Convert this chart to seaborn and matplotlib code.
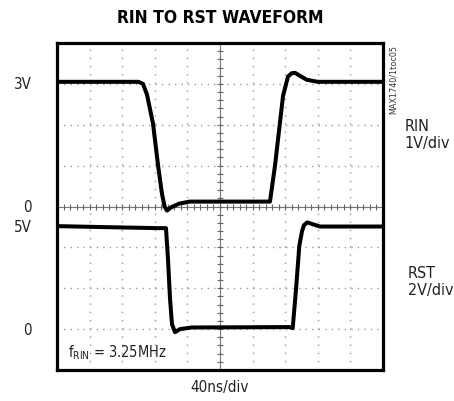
import numpy as np
import matplotlib
matplotlib.use('Agg')
import matplotlib.pyplot as plt
import seaborn as sns

# ============ data read off the scope shot ============
# time in ns (40ns/div, 10 div)
t_rin = [0, 100, 105.5, 110.4, 117.8, 123.9, 128.8, 132, 135, 140, 150, 163, 200, 255,
         261.3, 267.5, 273.6, 277.3, 283.4, 288.0, 292.0, 306.4, 320, 400]
v_rin = [3.05, 3.05, 3.0, 2.74, 2.03, 1.02, 0.31, 0.0, -0.1, -0.02, 0.07, 0.12, 0.12, 0.12,
         0.12, 1.0, 2.06, 2.7, 3.18, 3.26, 3.27, 3.1, 3.05, 3.05]

t_rst = [0, 60, 125, 133.7, 136.2, 138.7, 141.1, 144.8, 150.9, 165, 285,
         289.2, 293.3, 297.3, 300.6, 303.1, 307.1, 322.7, 400]
v_rst = [5.04, 4.99, 4.94, 4.94, 3.42, 1.47, 0.24, -0.15, 0.0, 0.08, 0.1,
         0.05, 1.96, 4.07, 4.79, 5.09, 5.22, 5.02, 5.02]

# channel setup: volts per division and zero position (in divisions from bottom)
rin_scale, rin_zero = 1.0, 4.0
rst_scale, rst_zero = 2.0, 1.0

ns_per_div = 40
n_xdiv, n_ydiv = 10, 8

# ============ style ============
sns.set_style('white')
plt.rcParams['font.family'] = ['DejaVu Sans']
plt.rcParams['font.stretch'] = 'condensed'
plt.rcParams['mathtext.fontset'] = 'custom'
plt.rcParams['mathtext.rm'] = 'DejaVu Sans:stretch=condensed'

fig = plt.figure(figsize=(4.54, 4.02), dpi=100)
W, H = 454, 402
ax = fig.add_axes([57 / W, 1 - 371 / H, 326 / W, 327 / H])

# traces, converted to screen divisions
y_rin = [rin_zero + v / rin_scale for v in v_rin]
y_rst = [rst_zero + v / rst_scale for v in v_rst]
sns.lineplot(x=t_rin, y=y_rin, ax=ax, color='black', lw=2.9, sort=False, zorder=5)
sns.lineplot(x=t_rst, y=y_rst, ax=ax, color='black', lw=2.9, sort=False, zorder=5)

ax.set_xlim(0, n_xdiv * ns_per_div)
ax.set_ylim(0, n_ydiv)
ax.set_xticks(np.arange(0, n_xdiv * ns_per_div + 1, ns_per_div))
ax.set_yticks(np.arange(0, n_ydiv + 1, 1))
ax.tick_params(length=0, labelbottom=False, labelleft=False)

# dotted graticule (dots at every 1/5 division)
ax.xaxis.grid(True, color='#9a9a9a', lw=1.0, linestyle=(0, (1.0, 4.9)))
ax.yaxis.grid(True, color='#9a9a9a', lw=1.0, linestyle=(0, (1.0, 3.7)))

# centre cross with minor ticks
xc = n_xdiv * ns_per_div / 2
yc = n_ydiv / 2
ax.axhline(yc, color='#777777', lw=0.8, zorder=2)
ax.axvline(xc, color='#777777', lw=0.8, zorder=2)
xm = np.arange(0, n_xdiv * ns_per_div + 1, ns_per_div / 5)
ym = np.arange(0, n_ydiv + 0.01, 0.2)
ax.plot(xm, np.full_like(xm, yc), ls='none', marker='|', ms=4.5, mew=0.8, color='#666666', zorder=2)
ax.plot(np.full_like(ym, xc), ym, ls='none', marker='_', ms=4.5, mew=0.8, color='#666666', zorder=2)

for s in ax.spines.values():
    s.set_linewidth(2.3)
    s.set_color('black')

# ============ labels ============
ytr = ax.get_yaxis_transform()
lab = dict(fontsize=10.8, color='#222222', va='center', ha='right', transform=ytr)
ax.text(-0.078, rin_zero + 3 / rin_scale, '3V', **lab)
ax.text(-0.078, rin_zero, '0', **lab)
ax.text(-0.078, rst_zero + 5 / rst_scale, '5V', **lab)
ax.text(-0.078, rst_zero, '0', **lab)

ax.text(1.067, 5.77, 'RIN\n1V/div', fontsize=11.5, color='#222222', va='center', ha='left',
        transform=ytr, linespacing=1.2)
ax.text(1.077, 2.18, 'RST\n2V/div', fontsize=11.5, color='#222222', va='center', ha='left',
        transform=ytr, linespacing=1.2)

ax.text(0.035, 0.055, r'f$_{\mathrm{RIN}}$ = 3.25MHz', fontsize=10.5, color='#222222',
        transform=ax.transAxes, va='center', ha='left')

fig.text(220 / W, 1 - 388 / H, '40ns/div', fontsize=11, color='#222222', ha='center', va='center')
fig.text(220 / W, 1 - 18 / H, 'RIN TO RST WAVEFORM', fontsize=12.5, fontweight='heavy',
         ha='center', va='center', color='black')
fig.text(393 / W, 1 - 45 / H, 'MAX1740/1toc05', fontsize=6.5, color='#333333', rotation=90,
         ha='center', va='top')

fig.savefig('out.png', dpi=100)
